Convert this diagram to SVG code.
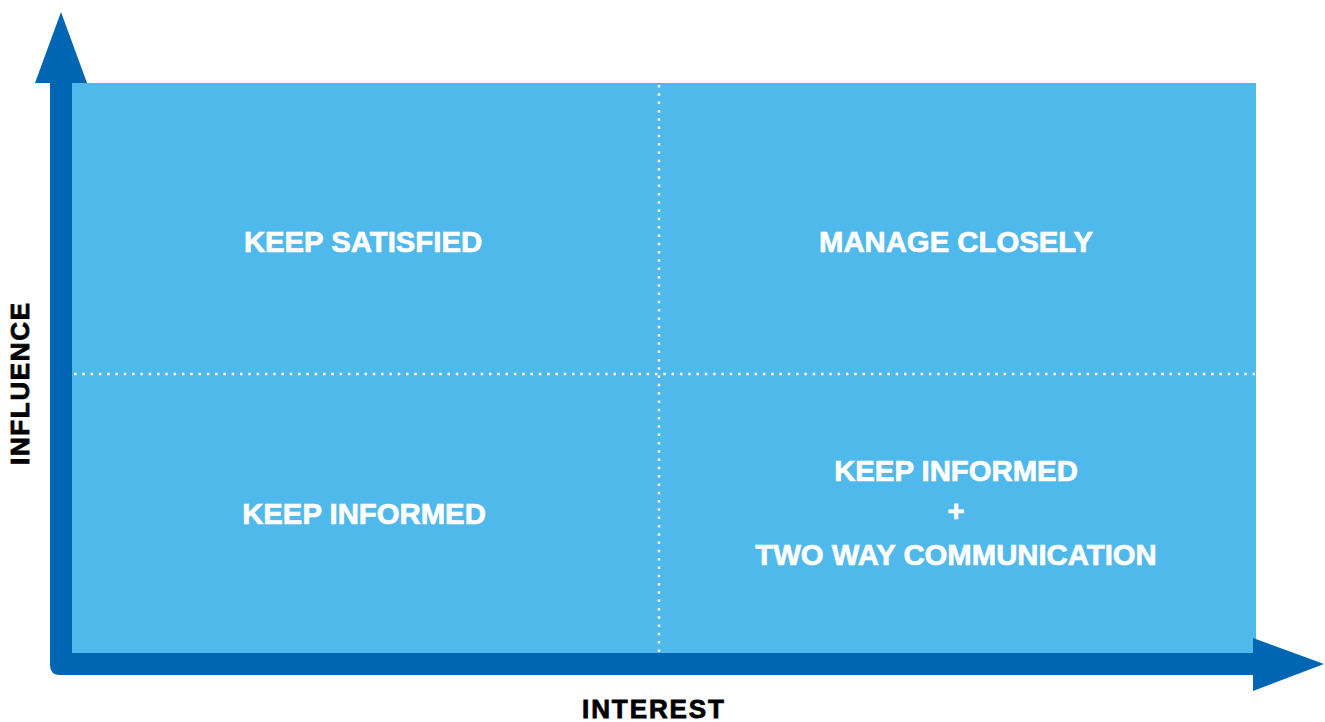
<svg xmlns="http://www.w3.org/2000/svg" width="1325" height="722" viewBox="0 0 1325 722">
  <style>
    .field { fill: #4FB9EB; }
    .axis { fill: #0066B3; }
    .divider { stroke: #FFFFFF; stroke-width: 2.5; stroke-dasharray: 2.5 5.8; fill: none; }
    .quad { font-family: "Liberation Sans", Arial, sans-serif; font-weight: bold; font-size: 29.3px; fill: #FFFFFF; stroke: #FFFFFF; stroke-width: 0.7; text-anchor: middle; }
    .axis-label { font-family: "Liberation Sans", Arial, sans-serif; font-weight: bold; font-size: 26px; fill: #000000; stroke: #000000; stroke-width: 0.8; text-anchor: middle; }
  </style>

  <!-- matrix background -->
  <g id="field">
    <rect class="field" x="72" y="83" width="1184" height="570"/>
  </g>

  <!-- quadrant dividers and axes -->
  <g id="connectors">
    <line class="divider" x1="659" y1="85" x2="659" y2="653"/>
    <line class="divider" x1="74" y1="374" x2="1256" y2="374"/>
    <path class="axis" d="M50,83 H72 V653 H1253 V675 H60 Q50,675 50,665 Z"/>
    <polygon class="axis" points="61,12 35,83 87,83"/>
    <polygon class="axis" points="1253,638 1324,664 1253,691"/>
  </g>

  <g id="q-keep-satisfied">
    <text class="quad" x="363" y="252">KEEP SATISFIED</text>
  </g>
  <g id="q-manage-closely">
    <text class="quad" x="956" y="252">MANAGE CLOSELY</text>
  </g>
  <g id="q-keep-informed">
    <text class="quad" x="364" y="524">KEEP INFORMED</text>
  </g>
  <g id="q-two-way">
    <text class="quad" x="956" y="481">KEEP INFORMED</text>
    <text class="quad" x="956" y="521">+</text>
    <text class="quad" x="956" y="565">TWO WAY COMMUNICATION</text>
  </g>

  <g id="label-interest">
    <text class="axis-label" x="653" y="718" textLength="142" lengthAdjust="spacing">INTEREST</text>
  </g>
  <g id="label-influence">
    <text class="axis-label" transform="translate(29,384) rotate(-90)" x="0" y="0" font-size="24" textLength="162" lengthAdjust="spacing">INFLUENCE</text>
  </g>
</svg>
